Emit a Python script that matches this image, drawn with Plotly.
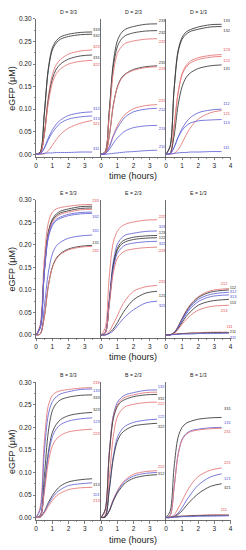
import plotly.graph_objects as go

# ---------------- data ----------------
TIME = [0, 0.25, 0.5, 0.75, 1.0, 1.25, 1.5, 2.0, 2.75, 3.45]
TIME_LONG = [0, 0.25, 0.5, 0.75, 1.0, 1.25, 1.5, 2.0, 2.75, 3.9]

PANEL_TITLES = ["D = 3/3", "D = 2/3", "D = 1/3",
                "E = 3/3", "E = 2/3", "E = 1/3",
                "B = 3/3", "B = 2/3", "B = 1/3"]
Y_TICK_VALUES = [0.00, 0.05, 0.10, 0.15, 0.20, 0.25, 0.30]
Y_TICK_LABELS = ["0.00", "0.05", "0.10", "0.15", "0.20", "0.25", "0.30"]
X_TICK_VALUES = [0, 1, 2, 3]
X_TICK_VALUES_LAST = [0, 1, 2, 3, 4]
X_TITLE = "time (hours)"
Y_TITLE = "eGFP (μM)"

# D = 3/3
D3_CODES = ["333", "332", "323", "331", "322", "312", "313", "321", "311"]
D3_VALUES = [
    [0, 0.005, 0.089, 0.190, 0.236, 0.252, 0.260, 0.266, 0.270, 0.271],
    [0, 0.005, 0.088, 0.186, 0.231, 0.247, 0.255, 0.261, 0.265, 0.266],
    [0, 0.002, 0.046, 0.127, 0.176, 0.199, 0.210, 0.222, 0.229, 0.231],
    [0, 0.002, 0.044, 0.121, 0.167, 0.189, 0.200, 0.211, 0.218, 0.220],
    [0, 0.002, 0.042, 0.114, 0.158, 0.179, 0.189, 0.200, 0.206, 0.208],
    [0, 0.001, 0.014, 0.036, 0.054, 0.067, 0.076, 0.086, 0.092, 0.094],
    [0, 0.001, 0.013, 0.032, 0.048, 0.060, 0.069, 0.078, 0.083, 0.085],
    [0, 0.000, 0.001, 0.008, 0.020, 0.033, 0.044, 0.058, 0.069, 0.075],
    [0, 0.001, 0.002, 0.003, 0.003, 0.004, 0.004, 0.004, 0.005, 0.005],
]
D3_LABEL_Y = [0.275, 0.262, 0.238, 0.214, 0.197, 0.101, 0.079, 0.066, 0.011]

# D = 2/3
D2_CODES = ["233", "232", "222", "231", "223", "221", "212", "213", "211"]
D2_VALUES = [
    [0, 0.006, 0.095, 0.202, 0.251, 0.269, 0.277, 0.283, 0.288, 0.289],
    [0, 0.005, 0.090, 0.192, 0.238, 0.255, 0.263, 0.269, 0.273, 0.274],
    [0, 0.005, 0.084, 0.179, 0.223, 0.238, 0.246, 0.251, 0.255, 0.256],
    [0, 0.002, 0.039, 0.108, 0.149, 0.169, 0.178, 0.188, 0.194, 0.196],
    [0, 0.002, 0.039, 0.107, 0.147, 0.167, 0.177, 0.186, 0.192, 0.194],
    [0, 0.001, 0.017, 0.042, 0.063, 0.078, 0.089, 0.101, 0.108, 0.110],
    [0, 0.001, 0.015, 0.039, 0.058, 0.072, 0.083, 0.094, 0.100, 0.102],
    [0, 0.001, 0.010, 0.024, 0.036, 0.045, 0.052, 0.059, 0.063, 0.064],
    [0, 0.000, 0.001, 0.002, 0.003, 0.004, 0.005, 0.006, 0.008, 0.009],
]
D2_LABEL_Y = [0.296, 0.268, 0.248, 0.203, 0.188, 0.118, 0.097, 0.055, 0.016]

# D = 1/3
D1_CODES = ["133", "132", "123", "122", "131", "112", "121", "113", "111"]
D1_VALUES = [
    [0, 0.017, 0.144, 0.230, 0.259, 0.271, 0.276, 0.282, 0.287, 0.288],
    [0, 0.017, 0.142, 0.226, 0.255, 0.266, 0.272, 0.277, 0.282, 0.283],
    [0, 0.002, 0.062, 0.137, 0.179, 0.197, 0.206, 0.214, 0.219, 0.221],
    [0, 0.002, 0.061, 0.135, 0.176, 0.193, 0.202, 0.210, 0.215, 0.217],
    [0, 0.002, 0.040, 0.109, 0.150, 0.170, 0.180, 0.190, 0.196, 0.198],
    [0, 0.001, 0.015, 0.038, 0.057, 0.071, 0.081, 0.092, 0.098, 0.100],
    [0, 0.000, 0.002, 0.010, 0.025, 0.043, 0.058, 0.078, 0.092, 0.097],
    [0, 0.001, 0.015, 0.037, 0.053, 0.063, 0.069, 0.074, 0.076, 0.077],
    [0, 0.001, 0.002, 0.003, 0.004, 0.004, 0.005, 0.005, 0.006, 0.006],
]
D1_LABEL_Y = [0.295, 0.274, 0.230, 0.207, 0.189, 0.111, 0.089, 0.070, 0.013]

# E = 3/3
E3_CODES = ["233", "133", "132", "232", "332", "333", "331", "131", "231"]
E3_VALUES = [
    [0, 0.023, 0.168, 0.249, 0.273, 0.280, 0.283, 0.286, 0.289, 0.290],
    [0, 0.017, 0.143, 0.229, 0.257, 0.269, 0.275, 0.280, 0.285, 0.286],
    [0, 0.017, 0.141, 0.226, 0.254, 0.265, 0.271, 0.276, 0.281, 0.282],
    [0, 0.017, 0.140, 0.223, 0.251, 0.262, 0.268, 0.273, 0.278, 0.279],
    [0, 0.016, 0.137, 0.218, 0.246, 0.257, 0.262, 0.268, 0.272, 0.273],
    [0, 0.016, 0.135, 0.216, 0.243, 0.254, 0.259, 0.265, 0.269, 0.270],
    [0, 0.002, 0.062, 0.138, 0.180, 0.198, 0.206, 0.215, 0.220, 0.222],
    [0, 0.002, 0.040, 0.109, 0.151, 0.171, 0.181, 0.191, 0.197, 0.199],
    [0, 0.002, 0.039, 0.108, 0.150, 0.169, 0.179, 0.189, 0.195, 0.197],
]
E3_LABEL_Y = [0.297, 0.293, 0.285, 0.277, 0.262, 0.262, 0.230, 0.205, 0.187]

# E = 2/3
E2_CODES = ["222", "323", "123", "122", "322", "223", "221", "121", "321"]
E2_VALUES = [
    [0, 0.015, 0.128, 0.205, 0.230, 0.241, 0.246, 0.251, 0.255, 0.256],
    [0, 0.005, 0.076, 0.162, 0.201, 0.215, 0.222, 0.226, 0.230, 0.231],
    [0, 0.004, 0.073, 0.155, 0.192, 0.206, 0.212, 0.217, 0.220, 0.221],
    [0, 0.004, 0.071, 0.151, 0.188, 0.201, 0.207, 0.212, 0.215, 0.216],
    [0, 0.004, 0.069, 0.146, 0.181, 0.193, 0.200, 0.204, 0.207, 0.208],
    [0, 0.004, 0.064, 0.137, 0.170, 0.181, 0.187, 0.191, 0.194, 0.195],
    [0, 0.000, 0.008, 0.024, 0.042, 0.062, 0.077, 0.097, 0.107, 0.110],
    [0, 0.000, 0.004, 0.013, 0.027, 0.043, 0.057, 0.078, 0.093, 0.097],
    [0, 0.000, 0.003, 0.009, 0.020, 0.031, 0.041, 0.056, 0.071, 0.075],
]
E2_LABEL_Y = [0.263, 0.240, 0.227, 0.215, 0.203, 0.187, 0.117, 0.086, 0.065]

# E = 1/3
E1_CODES = ["212", "112", "312", "313", "113", "213", "111", "211", "311"]
E1_VALUES = [
    [0, 0.000, 0.005, 0.019, 0.037, 0.054, 0.067, 0.085, 0.098, 0.103],
    [0, 0.000, 0.005, 0.018, 0.036, 0.052, 0.065, 0.083, 0.095, 0.100],
    [0, 0.000, 0.005, 0.017, 0.034, 0.049, 0.062, 0.079, 0.090, 0.095],
    [0, 0.000, 0.004, 0.016, 0.032, 0.046, 0.058, 0.074, 0.085, 0.089],
    [0, 0.000, 0.004, 0.014, 0.028, 0.041, 0.051, 0.066, 0.075, 0.079],
    [0, 0.000, 0.003, 0.012, 0.024, 0.034, 0.043, 0.055, 0.063, 0.066],
    [0, 0.001, 0.002, 0.003, 0.003, 0.004, 0.004, 0.005, 0.006, 0.006],
    [0, 0.001, 0.001, 0.002, 0.003, 0.003, 0.004, 0.004, 0.005, 0.005],
    [0, 0.000, 0.001, 0.001, 0.002, 0.002, 0.002, 0.003, 0.003, 0.004],
]
E1_LABEL_Y = [0.113, 0.104, 0.095, 0.084, 0.070, 0.054, 0.018, 0.006, -0.006]

# B = 3/3
B3_CODES = ["233", "133", "333", "323", "123", "223", "313", "113", "213"]
B3_VALUES = [
    [0, 0.023, 0.167, 0.248, 0.271, 0.278, 0.281, 0.284, 0.287, 0.288],
    [0, 0.017, 0.143, 0.228, 0.257, 0.268, 0.274, 0.279, 0.284, 0.285],
    [0, 0.005, 0.090, 0.190, 0.237, 0.253, 0.261, 0.267, 0.271, 0.272],
    [0, 0.002, 0.065, 0.144, 0.189, 0.207, 0.217, 0.226, 0.231, 0.233],
    [0, 0.002, 0.062, 0.137, 0.179, 0.197, 0.206, 0.214, 0.219, 0.221],
    [0, 0.002, 0.055, 0.122, 0.159, 0.174, 0.182, 0.190, 0.194, 0.196],
    [0, 0.001, 0.013, 0.033, 0.049, 0.061, 0.070, 0.079, 0.084, 0.086],
    [0, 0.001, 0.012, 0.029, 0.044, 0.055, 0.062, 0.071, 0.075, 0.077],
    [0, 0.001, 0.010, 0.025, 0.038, 0.048, 0.054, 0.062, 0.066, 0.067],
]
B3_LABEL_Y = [0.299, 0.280, 0.265, 0.238, 0.211, 0.185, 0.073, 0.051, 0.037]

# B = 2/3
B2_CODES = ["132", "232", "332", "222", "122", "322", "212", "112", "312"]
B2_VALUES = [
    [0, 0.017, 0.142, 0.226, 0.255, 0.266, 0.272, 0.277, 0.282, 0.283],
    [0, 0.017, 0.139, 0.222, 0.250, 0.261, 0.267, 0.272, 0.277, 0.278],
    [0, 0.016, 0.137, 0.218, 0.246, 0.257, 0.262, 0.268, 0.272, 0.273],
    [0, 0.005, 0.084, 0.179, 0.223, 0.238, 0.246, 0.251, 0.255, 0.256],
    [0, 0.002, 0.061, 0.135, 0.177, 0.194, 0.203, 0.211, 0.216, 0.218],
    [0, 0.002, 0.059, 0.130, 0.169, 0.186, 0.194, 0.203, 0.207, 0.209],
    [0, 0.001, 0.016, 0.040, 0.059, 0.074, 0.084, 0.096, 0.102, 0.104],
    [0, 0.001, 0.015, 0.038, 0.057, 0.071, 0.081, 0.092, 0.098, 0.100],
    [0, 0.001, 0.014, 0.036, 0.054, 0.067, 0.077, 0.087, 0.093, 0.095],
]
B2_LABEL_Y = [0.289, 0.277, 0.263, 0.251, 0.223, 0.201, 0.113, 0.099, 0.097]

# B = 1/3
B1_CODES = ["331", "131", "231", "221", "121", "321", "111", "311", "211"]
B1_VALUES = [
    [0, 0.013, 0.111, 0.178, 0.200, 0.209, 0.213, 0.218, 0.221, 0.222],
    [0, 0.004, 0.066, 0.140, 0.174, 0.186, 0.192, 0.196, 0.199, 0.200],
    [0, 0.004, 0.065, 0.139, 0.172, 0.184, 0.190, 0.194, 0.197, 0.198],
    [0, 0.000, 0.006, 0.020, 0.037, 0.055, 0.070, 0.091, 0.105, 0.110],
    [0, 0.000, 0.003, 0.010, 0.022, 0.037, 0.050, 0.072, 0.090, 0.097],
    [0, 0.000, 0.002, 0.007, 0.015, 0.026, 0.036, 0.053, 0.069, 0.075],
    [0, 0.001, 0.002, 0.003, 0.003, 0.004, 0.004, 0.005, 0.006, 0.006],
    [0, 0.001, 0.001, 0.002, 0.003, 0.003, 0.004, 0.004, 0.005, 0.005],
    [0, 0.000, 0.001, 0.001, 0.002, 0.002, 0.002, 0.003, 0.003, 0.004],
]
B1_LABEL_Y = [0.241, 0.209, 0.189, 0.121, 0.086, 0.066, 0.016, 0.013, 0.002]

# ---------------- style / placement ----------------
LINE_COLORS = {"k": "#404040", "r": "#e47a7a", "b": "#6a6ad8"}
TEXT_COLORS = {"k": "#2c2c2c", "r": "#e04a4a", "b": "#4a4ad2"}

PANELS = [
    (D3_CODES, D3_VALUES, D3_LABEL_Y, "kkrkrbbrb", [3.5] * 9, [False] * 9),
    (D2_CODES, D2_VALUES, D2_LABEL_Y, "kkrkrrbbb", [3.55] * 9, [False] * 9),
    (D1_CODES, D1_VALUES, D1_LABEL_Y, "kkrrkbrbb", [3.55] * 9, [False] * 9),
    (E3_CODES, E3_VALUES, E3_LABEL_Y, "rkkrbbbkr",
     [3.46, 4.12, 4.12, 4.12, 3.46, 4.12, 3.46, 3.46, 3.46], [False] * 9),
    (E2_CODES, E2_VALUES, E2_LABEL_Y, "rbkkbrrkb", [3.55] * 9, [False] * 9),
    (E1_CODES, E1_VALUES, E1_LABEL_Y, "rkbbkrrkb",
     [3.4, 3.95, 3.95, 3.95, 3.95, 3.4, 3.75, 3.95, 3.95], [True] * 9),
    (B3_CODES, B3_VALUES, B3_LABEL_Y, "rbkkbrkbr", [3.5] * 9, [False] * 9),
    (B2_CODES, B2_VALUES, B2_LABEL_Y, "brkrbkrbk",
     [3.5, 4.1, 3.5, 3.5, 3.5, 3.5, 3.5, 4.1, 3.5], [False] * 9),
    (B1_CODES, B1_VALUES, B1_LABEL_Y, "kbrrbkrkb",
     [3.6] * 6 + [3.4, 4.1, 4.1], [False] * 6 + [True] * 3),
]

W, H = 246, 550
X_EDGES = [34.7, 100.7, 166.7, 232.3]          # pixel edges of the columns
ROW_PIX = [(15.0, 154.4), (197.7, 336.7), (381.7, 521.0)]  # top/bottom of rows
FONT = "Liberation Sans, Arial, sans-serif"
AXIS_COLOR = "#4a4a4a"

fig = go.Figure()
layout = dict(
    width=W, height=H, margin=dict(l=0, r=0, t=0, b=0),
    paper_bgcolor="white", plot_bgcolor="white", showlegend=False,
    font=dict(family=FONT, color="#222222"),
)
annotations = []

for idx, (codes, values, label_y, style, label_t, long_flags) in enumerate(PANELS):
    row, col = divmod(idx, 3)
    n = idx + 1
    xa = "x" if n == 1 else f"x{n}"
    ya = "y" if n == 1 else f"y{n}"
    xkey = "xaxis" if n == 1 else f"xaxis{n}"
    ykey = "yaxis" if n == 1 else f"yaxis{n}"
    top, bottom = ROW_PIX[row]
    xdom = [X_EDGES[col] / W, X_EDGES[col + 1] / W]
    ydom = [1 - bottom / H, 1 - top / H]

    for vals, c, lf in zip(values, style, long_flags):
        fig.add_trace(go.Scatter(
            x=TIME_LONG if lf else TIME, y=vals, mode="lines",
            line=dict(color=LINE_COLORS[c], width=0.9, shape="spline", smoothing=0.9),
            xaxis=xa, yaxis=ya, hoverinfo="skip"))
    fig.add_trace(go.Scatter(
        x=label_t, y=label_y, text=codes, mode="text",
        textposition="middle right",
        textfont=dict(size=4, family=FONT, color=[TEXT_COLORS[c] for c in style]),
        cliponaxis=False, xaxis=xa, yaxis=ya, hoverinfo="skip"))

    layout[xkey] = dict(
        domain=xdom, range=[0, 4], anchor=ya, showgrid=False, zeroline=False,
        showline=True, linecolor=AXIS_COLOR, linewidth=0.8,
        tickmode="array", tickvals=X_TICK_VALUES_LAST if col == 2 else X_TICK_VALUES,
        ticks="outside", ticklen=2.5, tickwidth=0.7, tickcolor=AXIS_COLOR,
        tickfont=dict(size=6.5, family=FONT, color="#222222"),
        minor=dict(ticks="outside", ticklen=1.3, tickwidth=0.6, tickcolor=AXIS_COLOR,
                   tickvals=[0.5, 1.5, 2.5, 3.5]),
        fixedrange=True,
    )
    ydict = dict(
        domain=ydom, range=[-0.006, 0.30], anchor=xa, showgrid=False, zeroline=False,
        showline=True, linecolor=AXIS_COLOR, linewidth=0.8, fixedrange=True,
    )
    if col == 0:
        ydict.update(
            tickmode="array", tickvals=Y_TICK_VALUES, ticktext=Y_TICK_LABELS,
            ticks="outside", ticklen=2.5, tickwidth=0.7, tickcolor=AXIS_COLOR,
            tickfont=dict(size=6.5, family=FONT, color="#222222"),
            minor=dict(ticks="outside", ticklen=1.3, tickwidth=0.6, tickcolor=AXIS_COLOR,
                       tickvals=[0.025, 0.075, 0.125, 0.175, 0.225, 0.275]),
        )
    else:
        ydict.update(showticklabels=False, ticks="")
    layout[ykey] = ydict

    annotations.append(dict(
        text=PANEL_TITLES[idx], xref="paper", yref="paper",
        x=(xdom[0] + xdom[1]) / 2, y=1 - (top - 7) / H,
        xanchor="center", yanchor="middle", showarrow=False,
        font=dict(size=5.2, family=FONT, color="#222222")))

for row, (top, bottom) in enumerate(ROW_PIX):
    annotations.append(dict(
        text=X_TITLE, xref="paper", yref="paper",
        x=(X_EDGES[0] + X_EDGES[3]) / 2 / W, y=1 - (bottom + 19.5) / H,
        xanchor="center", yanchor="middle", showarrow=False,
        font=dict(size=9, family=FONT, color="#222222")))
    annotations.append(dict(
        text=Y_TITLE, xref="paper", yref="paper", textangle=-90,
        x=10 / W, y=1 - (top + bottom) / 2 / H,
        xanchor="center", yanchor="middle", showarrow=False,
        font=dict(size=9, family=FONT, color="#222222")))

layout["annotations"] = annotations
fig.update_layout(**layout)
fig.write_html(
    "out.html",
    config={"displayModeBar": False, "staticPlot": True},
    post_script="document.body.style.margin='0';document.body.style.overflow='hidden';",
)
